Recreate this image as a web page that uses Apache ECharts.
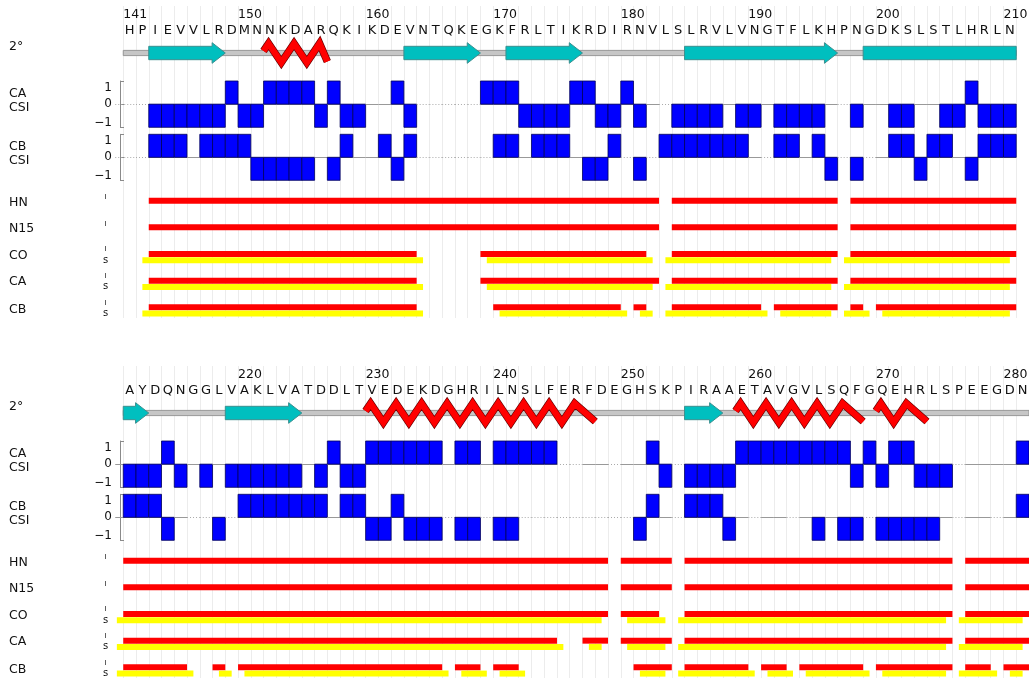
<!DOCTYPE html>
<html><head><meta charset="utf-8">
<script src="https://cdn.jsdelivr.net/npm/echarts@6/dist/echarts.min.js"></script>
<style>html,body{margin:0;padding:0;background:#fff}#c{width:1029px;height:679px}</style>
</head><body><div id="c"></div>
<script>
// ---------------- DATA ----------------
const firstResidue = 141;
const panelRanges = [[141, 210], [211, 281]];
const sequence = "HPIEVVLRDMNNKDARQKIKDEVNTQKEGKFRLTIKRDIRNVLSLRVLVNGTFLKHPNGDKSLSTLHRLN" +
                 "AYDQNGGLVAKLVATDDLTVEDEKDGHRILNSLFERFDEGHSKPIRAAETAVGVLSQFGQEHRLSPEEGDN";
const tickResidues = [141, 150, 160, 170, 180, 190, 200, 210, 220, 230, 240, 250, 260, 270, 280];

// secondary structure: [start, end]
const strands = [[143,148],[163,168],[171,176],[185,196],[199,212],[219,224],[255,257]];
const helices = [[152,156],[230,247],[259,268],[270,273]];

// chemical shift index, residues 141..281 (null = not assigned)
const caCSI = [
  null,null,-1,-1,-1,-1,-1,-1,1,-1,      // 141-150
  -1,1,1,1,1,-1,1,-1,-1,0,               // 151-160
  0,1,-1,null,null,null,null,null,1,1,   // 161-170
  1,-1,-1,-1,-1,1,1,-1,-1,1,             // 171-180
  -1,0,null,-1,-1,-1,-1,0,-1,-1,         // 181-190
  0,-1,-1,-1,-1,0,null,-1,0,0,           // 191-200
  -1,-1,0,0,-1,-1,1,-1,-1,-1,            // 201-210
  -1,-1,-1,1,-1,0,-1,0,-1,-1,            // 211-220
  -1,-1,-1,-1,0,-1,1,-1,-1,1,            // 221-230
  1,1,1,1,1,0,1,1,0,1,                   // 231-240
  1,1,1,1,null,null,0,0,null,0,          // 241-250
  0,1,-1,null,-1,-1,-1,-1,1,1,           // 251-260
  1,1,1,1,1,1,1,-1,1,-1,                 // 261-270
  1,1,-1,-1,-1,null,0,0,0,0,1            // 271-281
];
const cbCSI = [
  null,null,1,1,1,0,1,1,1,1,             // 141-150
  -1,-1,-1,-1,-1,0,-1,1,0,0,             // 151-160
  1,-1,1,null,null,null,null,null,null,1,// 161-170
  1,0,1,1,1,0,-1,-1,1,null,              // 171-180
  -1,null,1,1,1,1,1,1,1,0,               // 181-190
  null,1,1,0,1,-1,null,-1,null,0,        // 191-200
  1,1,-1,1,1,0,-1,1,1,1,                 // 201-210
  1,1,1,-1,0,null,null,-1,null,1,        // 211-220
  1,1,1,1,1,1,0,1,1,-1,                  // 221-230
  -1,1,-1,-1,-1,null,-1,-1,null,-1,      // 231-240
  -1,null,null,null,null,null,null,null,null,null, // 241-250
  -1,1,0,null,1,1,1,-1,0,null,           // 251-260
  0,0,null,0,-1,0,-1,-1,null,-1,         // 261-270
  -1,-1,-1,-1,0,null,0,0,null,0,1        // 271-281
];

// assignment tracks: residue ranges (inclusive)
const hnAssigned  = [[143,182],[184,196],[198,210],[211,248],[250,253],[255,275],[277,281]];
const n15Assigned = [[143,182],[184,196],[198,210],[211,248],[250,253],[255,275],[277,281]];
const coAssigned  = [[143,163],[169,181],[184,196],[198,210],[211,248],[250,252],[255,275],[277,281]];
const coSeq       = [[143,164],[170,182],[184,196],[198,210],[211,248],[251,253],[255,275],[277,281]];
const caAssigned  = [[143,163],[169,182],[184,196],[198,210],[211,244],[247,248],[250,253],[255,275],[277,281]];
const caSeq       = [[143,164],[170,182],[184,196],[198,210],[211,245],[248,248],[251,253],[255,275],[277,281]];
const cbAssigned  = [[143,163],[170,179],[181,181],[184,190],[192,196],[198,198],[200,210],
                     [211,215],[218,218],[220,235],[237,238],[240,241],[251,253],[255,259],[261,262],[264,268],[270,275],[277,278],[280,281]];
const cbSeq       = [[143,164],[171,180],[182,182],[184,191],[193,196],[198,199],[201,210],
                     [211,216],[219,219],[221,236],[238,239],[241,242],[252,253],[255,260],[262,263],[265,269],[271,275],[277,279],[281,281]];

// ---------------- LAYOUT ----------------
const COL = 12.76;
const GRID_LEFT = 123.24;
const GRID_W = 71 * COL;
const PANEL_DY = [0, 360];
const FRAME_H = 318;
const NUM_Y = 15, LETTER_Y = 31, SS_Y = 53;
const TRACK_Y0 = 200.7, TRACK_DY = 26.65;
const FONT = '"DejaVu Sans", Verdana, sans-serif';

const rowLabels = [['2°',47],['CA',94.5],['CSI',108.5],['CB',147.5],['CSI',161.5],
                   ['HN',203],['N15',229.5],['CO',256],['CA',282.7],['CB',310]];
const rowMarks = [['I',197.5],['I',224.5],['I',249.5],['s',260.5],['I',276.5],['s',286.8],['I',303.5],['s',313.4]];

const grids = [], xAxes = [], yAxes = [], series = [], graphics = [];

function xAxisFor(gi, p, withLines) {
  return {
    gridIndex: gi, type: 'value',
    min: panelRanges[p][0] - 1, max: panelRanges[p][0] + 70, interval: 1,
    axisLine: {show: false}, axisTick: {show: false}, axisLabel: {show: false},
    splitLine: {show: !!withLines, lineStyle: {color: '#ececec', width: 1}}
  };
}

function helixPath(x0, x1, yTop, yBot) {
  const P = 25.5, q = 5, half = P / 2;
  const n = Math.floor((x1 - x0 - q) / P) + 1;
  const pts = [[x0, yTop + (yBot - yTop) * (q / half)]];
  for (let k = 0; k < n; k++) {
    pts.push([x0 + q + k * P, yTop]);
    if (k < n - 1) pts.push([x0 + q + k * P + half, yBot]);
  }
  pts.push([x1, yBot - 1]);
  return pts;
}

for (let p = 0; p < 2; p++) {
  const dy = PANEL_DY[p];
  const [lo, hi] = panelRanges[p];
  const gFrame = p * 4, gCA = p * 4 + 1, gCB = p * 4 + 2, gLines = p * 4 + 3;

  grids[gFrame] = {left: GRID_LEFT, width: GRID_W, top: dy, height: FRAME_H};
  grids[gCA]    = {left: GRID_LEFT, width: GRID_W, top: dy + 81, height: 46.3};
  grids[gCB]    = {left: GRID_LEFT, width: GRID_W, top: dy + 134.3, height: 46};
  grids[gLines] = {left: GRID_LEFT, width: GRID_W, top: dy + 6, height: 312};

  xAxes[gFrame] = xAxisFor(gFrame, p, false);
  xAxes[gCA] = xAxisFor(gCA, p, false);
  xAxes[gCB] = xAxisFor(gCB, p, false);
  xAxes[gLines] = xAxisFor(gLines, p, true);

  yAxes[gFrame] = {gridIndex: gFrame, type: 'value', min: 0, max: FRAME_H, inverse: true, show: false};
  yAxes[gLines] = {gridIndex: gLines, type: 'value', min: 0, max: 1, show: false};
  [gCA, gCB].forEach(gi => {
    yAxes[gi] = {
      gridIndex: gi, type: 'value', min: -1, max: 1, interval: 1, position: 'left', offset: 3.24,
      axisLine: {show: true, lineStyle: {color: '#8a8a8a', width: 1}},
      axisTick: {show: true, inside: true, length: 4, lineStyle: {color: '#8a8a8a'}},
      splitLine: {show: false},
      axisLabel: {
        margin: 8, color: '#111', fontFamily: FONT, fontSize: 12,
        formatter: v => v > 0 ? '{t|1}' : (v < 0 ? '{b|\u22121}' : '{m|0}'),
        rich: {
          t: {fontFamily: FONT, fontSize: 12, color: '#111', padding: [13, 0, 0, 0]},
          m: {fontFamily: FONT, fontSize: 12, color: '#111'},
          b: {fontFamily: FONT, fontSize: 12, color: '#111', padding: [0, 0, 9, 0]}
        }
      }
    };
  });

  // --- residue letters and numbers
  const residues = [];
  for (let r = lo; r <= hi; r++) residues.push([r]);
  series.push({
    type: 'custom', xAxisIndex: gFrame, yAxisIndex: gFrame, silent: true, clip: false,
    data: residues,
    renderItem: (params, api) => {
      const r = api.value(0);
      const pt = api.coord([r - 0.5, LETTER_Y]);
      const ch = [{type: 'text', x: pt[0], y: pt[1], style: {
        text: sequence[r - firstResidue], fill: '#111', fontFamily: FONT, fontSize: 13,
        align: 'center', verticalAlign: 'middle'}}];
      if (tickResidues.indexOf(r) >= 0) {
        const pn = api.coord([r - 1, NUM_Y]);
        ch.push({type: 'text', x: pn[0], y: pn[1], style: {
          text: String(r), fill: '#111', fontFamily: FONT, fontSize: 12.5,
          align: 'left', verticalAlign: 'middle'}});
      }
      return {type: 'group', children: ch};
    }
  });

  // --- secondary structure
  const ssData = [[0, lo, hi, 0]];
  strands.forEach(([s, e]) => {
    if (e < lo || s > hi) return;
    ssData.push([1, Math.max(s, lo), Math.min(e, hi), e <= hi ? 1 : 0]);
  });
  helices.forEach(([s, e]) => {
    if (e < lo || s > hi) return;
    ssData.push([2, Math.max(s, lo), Math.min(e, hi), 0]);
  });
  series.push({
    type: 'custom', xAxisIndex: gFrame, yAxisIndex: gFrame, silent: true, clip: false,
    data: ssData,
    renderItem: (params, api) => {
      const type = api.value(0), s = api.value(1), e = api.value(2), head = api.value(3);
      const x0 = api.coord([s - 1, SS_Y])[0], x1 = api.coord([e, SS_Y])[0];
      const yc = api.coord([s, SS_Y])[1];
      if (type === 0) {
        return {type: 'rect', shape: {x: x0, y: yc - 2.6, width: x1 - x0, height: 5.2},
          style: {fill: '#c6c6c6', stroke: '#8e8e8e', lineWidth: 0.9}};
      }
      if (type === 1) {
        const bh = 6.7, hh = 10.3, hl = 13.2;
        let pts;
        if (head) {
          const xh = x1 - hl;
          pts = [[x0, yc - bh], [xh, yc - bh], [xh, yc - hh], [x1, yc], [xh, yc + hh], [xh, yc + bh], [x0, yc + bh]];
        } else {
          pts = [[x0, yc - bh], [x1, yc - bh], [x1, yc + bh], [x0, yc + bh]];
        }
        return {type: 'polygon', shape: {points: pts},
          style: {fill: '#00bfbf', stroke: '#3a8f8f', lineWidth: 1}};
      }
      const pts = helixPath(x0, x1, yc - 9.5, yc + 9.5);
      return {type: 'group', children: [
        {type: 'polyline', shape: {points: pts}, style: {fill: null, stroke: '#6a0000', lineWidth: 7.6, lineJoin: 'miter', lineCap: 'butt'}},
        {type: 'polyline', shape: {points: pts}, style: {fill: null, stroke: '#ff0000', lineWidth: 6.2, lineJoin: 'miter', lineCap: 'butt'}}
      ]};
    }
  });

  // --- CSI bars
  [[caCSI, gCA], [cbCSI, gCB]].forEach(([arr, gi]) => {
    const d = [];
    for (let r = lo; r <= hi; r++) {
      const v = arr[r - firstResidue];
      d.push([r, v === null ? 0 : v, v === null ? 0 : 1]);
    }
    series.push({
      type: 'custom', xAxisIndex: gi, yAxisIndex: gi, silent: true, clip: false,
      data: d,
      renderItem: (params, api) => {
        const r = api.value(0), v = api.value(1), has = api.value(2);
        const a = api.coord([r - 1, 0]), b = api.coord([r, v]);
        const xs = r === lo ? a[0] - 8 : a[0];
        const ch = [{type: 'line', shape: {x1: xs, y1: Math.round(a[1]) + 0.5, x2: b[0], y2: Math.round(a[1]) + 0.5},
          style: has ? {stroke: '#999', lineWidth: 1} : {stroke: '#aaa', lineWidth: 1, lineDash: [1, 2]}}];
        if (has && v !== 0) {
          ch.push({type: 'rect', shape: {x: a[0], y: Math.min(a[1], b[1]), width: b[0] - a[0], height: Math.abs(b[1] - a[1])},
            style: {fill: '#0000ff', stroke: '#00005a', lineWidth: 0.8}});
        }
        return {type: 'group', children: ch};
      }
    });
  });

  // --- assignment tracks
  const trackData = [];
  [[hnAssigned, 0, 0], [n15Assigned, 1, 0], [coAssigned, 2, 0], [coSeq, 2, 1],
   [caAssigned, 3, 0], [caSeq, 3, 1], [cbAssigned, 4, 0], [cbSeq, 4, 1]].forEach(([ranges, row, kind]) => {
    ranges.forEach(([s, e]) => { if (s >= lo && e <= hi) trackData.push([row, s, e, kind]); });
  });
  series.push({
    type: 'custom', xAxisIndex: gFrame, yAxisIndex: gFrame, silent: true, clip: false,
    data: trackData,
    renderItem: (params, api) => {
      const row = api.value(0), s = api.value(1), e = api.value(2), kind = api.value(3);
      const yc = TRACK_Y0 + row * TRACK_DY;
      const sh = kind ? -0.5 : 0;
      const a = api.coord([s - 1 + sh, kind ? yc + 3.3 : yc - 3]);
      const b = api.coord([e + sh, kind ? yc + 9.3 : yc + 3]);
      return {type: 'rect', shape: {x: a[0], y: a[1], width: b[0] - a[0], height: b[1] - a[1]},
        style: {fill: kind ? '#ffff00' : '#ff0000'}};
    }
  });

  // --- row labels
  rowLabels.forEach(([t, y]) => graphics.push({type: 'text', left: 9, top: dy + y - 7,
    style: {text: t, fill: '#111', fontFamily: FONT, fontSize: 12.5}}));
  rowMarks.forEach(([t, y]) => graphics.push({type: 'text', x: 105.5, y: dy + y,
    style: {text: t, fill: '#111', fontFamily: FONT, fontSize: t === 'I' ? 7 : 10, align: 'center', verticalAlign: 'middle'}}));
}

const chart = echarts.init(document.getElementById('c'), null, {renderer: 'canvas'});
chart.setOption({
  animation: false,
  backgroundColor: '#fff',
  grid: grids, xAxis: xAxes, yAxis: yAxes, series: series, graphic: graphics
});
</script>
</body></html>
